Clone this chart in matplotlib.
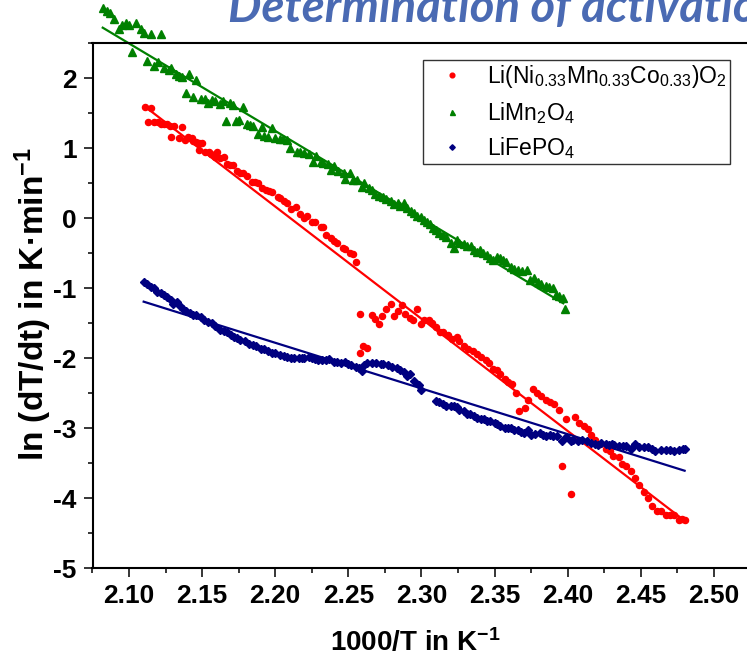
import matplotlib
matplotlib.use("Agg")
import matplotlib.pyplot as plt
from matplotlib.lines import Line2D
from matplotlib.ticker import FixedLocator, MultipleLocator

plt.rcParams['font.family'] = ['Liberation Sans', 'DejaVu Sans']
plt.rcParams['mathtext.fontset'] = 'custom'
plt.rcParams['mathtext.rm'] = 'Liberation Sans'
plt.rcParams['mathtext.it'] = 'Liberation Sans:italic'
plt.rcParams['mathtext.bf'] = 'Liberation Sans:bold'

# ---- data: 1000/T (K^-1) vs ln(dT/dt) ----
nmc_x = [2.111, 2.115, 2.113, 2.117, 2.120, 2.122, 2.124, 2.126, 2.128, 2.129, 2.131, 2.134,
         2.136, 2.138, 2.140, 2.143, 2.144, 2.146, 2.148, 2.148, 2.150, 2.152, 2.155, 2.156,
         2.159, 2.160, 2.162, 2.165, 2.167, 2.169, 2.171, 2.174, 2.176, 2.178, 2.181, 2.184,
         2.186, 2.188, 2.191, 2.194, 2.196, 2.198, 2.202, 2.203, 2.206, 2.208, 2.211, 2.214,
         2.217, 2.220, 2.222, 2.225, 2.227, 2.231, 2.233, 2.235, 2.238, 2.240, 2.242, 2.246,
         2.248, 2.251, 2.253, 2.255,
         2.258, 2.258, 2.260, 2.263, 2.266, 2.268, 2.271, 2.273, 2.276, 2.279, 2.281, 2.284,
         2.287, 2.289, 2.292, 2.294, 2.297, 2.300, 2.302, 2.305, 2.307, 2.310, 2.313, 2.315,
         2.318, 2.321, 2.324, 2.326, 2.329, 2.332, 2.335, 2.338, 2.341, 2.344, 2.346, 2.349,
         2.352, 2.354, 2.357, 2.359, 2.362, 2.365, 2.367, 2.371, 2.373, 2.376, 2.379, 2.382,
         2.385, 2.388, 2.391, 2.394, 2.396, 2.399, 2.402, 2.405, 2.408, 2.411, 2.414, 2.416,
         2.419, 2.422, 2.426, 2.429, 2.431, 2.435, 2.437, 2.440, 2.443, 2.446, 2.449, 2.452,
         2.455, 2.458, 2.461, 2.464, 2.467, 2.470, 2.473, 2.476, 2.478, 2.480]
nmc_y = [1.59, 1.58, 1.37, 1.37, 1.37, 1.35, 1.34, 1.34, 1.32, 1.16, 1.32, 1.14,
         1.30, 1.12, 1.16, 1.14, 1.10, 1.09, 0.97, 1.07, 1.08, 0.95, 0.94, 0.92,
         0.88, 0.94, 0.86, 0.88, 0.78, 0.76, 0.76, 0.67, 0.65, 0.64, 0.61, 0.52,
         0.52, 0.50, 0.43, 0.41, 0.39, 0.38, 0.31, 0.29, 0.24, 0.22, 0.13, 0.16,
         0.06, 0.01, 0.03, -0.06, -0.06, -0.12, -0.13, -0.24, -0.28, -0.33, -0.35, -0.43,
         -0.44, -0.50, -0.51, -0.62,
         -1.37, -1.93, -1.82, -1.85, -1.38, -1.44, -1.51, -1.40, -1.30, -1.23, -1.40, -1.33,
         -1.24, -1.37, -1.43, -1.45, -1.29, -1.51, -1.45, -1.45, -1.50, -1.55, -1.62, -1.62,
         -1.67, -1.73, -1.70, -1.75, -1.82, -1.87, -1.89, -1.94, -1.98, -2.02, -2.07, -2.15,
         -2.17, -2.22, -2.29, -2.34, -2.37, -2.50, -2.75, -2.71, -2.60, -2.44, -2.49, -2.54,
         -2.60, -2.62, -2.65, -2.74, -3.54, -2.87, -3.94, -2.84, -2.93, -2.97, -3.01, -3.10,
         -3.16, -3.22, -3.29, -3.33, -3.40, -3.41, -3.51, -3.54, -3.61, -3.71, -3.81, -3.91,
         -4.00, -4.11, -4.18, -4.18, -4.24, -4.24, -4.24, -4.31, -4.29, -4.31]

lmo_x = [2.082, 2.085, 2.087, 2.090, 2.093, 2.095, 2.098, 2.100, 2.102, 2.105, 2.108, 2.110,
         2.115, 2.122, 2.112, 2.117, 2.120, 2.124, 2.127, 2.129, 2.132, 2.134, 2.136, 2.139,
         2.141, 2.144, 2.146, 2.149, 2.152, 2.154, 2.157, 2.159, 2.162, 2.164, 2.166, 2.169,
         2.171, 2.173, 2.175, 2.178, 2.181, 2.183, 2.185, 2.188, 2.191, 2.192, 2.195, 2.198,
         2.200, 2.203, 2.205, 2.208, 2.210, 2.215, 2.217, 2.220, 2.223, 2.226, 2.228, 2.231,
         2.233, 2.236, 2.238, 2.240, 2.243, 2.247, 2.248, 2.251, 2.253, 2.256, 2.259, 2.261,
         2.264, 2.266, 2.268, 2.271, 2.274, 2.276, 2.279, 2.281, 2.284, 2.285, 2.288, 2.290,
         2.293, 2.295, 2.297, 2.300, 2.302, 2.304, 2.306, 2.308, 2.310, 2.312, 2.315, 2.317,
         2.320, 2.322, 2.324, 2.326, 2.329, 2.331, 2.334, 2.336, 2.338, 2.340, 2.342, 2.345,
         2.347, 2.349, 2.352, 2.354, 2.356, 2.358, 2.361, 2.363, 2.366, 2.369, 2.372, 2.374,
         2.377, 2.380, 2.382, 2.385, 2.387, 2.390, 2.392, 2.394, 2.397, 2.398]
lmo_y = [3.01, 2.96, 2.93, 2.84, 2.70, 2.76, 2.79, 2.76, 2.38, 2.79, 2.70, 2.65,
         2.63, 2.63, 2.24, 2.17, 2.23, 2.14, 2.12, 2.14, 2.06, 2.03, 2.02, 1.79,
         2.06, 1.73, 1.97, 1.70, 1.70, 1.65, 1.69, 1.68, 1.63, 1.68, 1.39, 1.64,
         1.62, 1.39, 1.40, 1.59, 1.35, 1.33, 1.32, 1.20, 1.31, 1.17, 1.16, 1.29,
         1.14, 1.13, 1.13, 1.12, 1.00, 0.95, 0.94, 0.93, 0.92, 0.81, 0.89, 0.81,
         0.79, 0.77, 0.69, 0.74, 0.67, 0.64, 0.56, 0.64, 0.55, 0.54, 0.45, 0.50,
         0.43, 0.40, 0.35, 0.32, 0.31, 0.27, 0.24, 0.21, 0.22, 0.18, 0.22, 0.14,
         0.11, 0.07, 0.03, 0.02, -0.02, -0.06, -0.08, -0.14, -0.17, -0.21, -0.24, -0.27,
         -0.36, -0.43, -0.31, -0.36, -0.37, -0.40, -0.40, -0.45, -0.48, -0.46, -0.50, -0.52,
         -0.57, -0.59, -0.56, -0.57, -0.59, -0.62, -0.70, -0.73, -0.74, -0.75, -0.74, -0.88,
         -0.86, -0.91, -0.94, -0.97, -0.98, -1.00, -1.10, -1.11, -1.14, -1.29]

lfp_x = [2.110, 2.112, 2.115, 2.117, 2.119, 2.122, 2.124, 2.126, 2.129, 2.130, 2.133, 2.135,
         2.137, 2.139, 2.142, 2.144, 2.146, 2.149, 2.151, 2.154, 2.157, 2.159, 2.162, 2.165,
         2.167, 2.170, 2.172, 2.174, 2.176, 2.179, 2.182, 2.185, 2.187, 2.190, 2.192, 2.195,
         2.198, 2.200, 2.203, 2.206, 2.208, 2.211, 2.213, 2.216, 2.218, 2.220, 2.223, 2.225,
         2.227, 2.229, 2.232, 2.235, 2.237, 2.240, 2.242, 2.245, 2.248, 2.250, 2.252, 2.255,
         2.257, 2.259, 2.261, 2.263, 2.266, 2.269, 2.272, 2.274, 2.277, 2.280, 2.283, 2.285,
         2.288, 2.290, 2.292, 2.295, 2.298, 2.300,
         2.310, 2.312, 2.315, 2.317, 2.320, 2.322, 2.324, 2.326, 2.329, 2.331, 2.333, 2.336,
         2.338, 2.341, 2.343, 2.345, 2.347, 2.350, 2.352, 2.354, 2.357, 2.359, 2.361, 2.363,
         2.366, 2.368, 2.370, 2.373, 2.375, 2.378, 2.381, 2.383, 2.385, 2.388, 2.390, 2.393,
         2.396, 2.399, 2.402, 2.404, 2.407, 2.410, 2.413, 2.416, 2.419, 2.421, 2.423, 2.426,
         2.428, 2.430, 2.432, 2.435, 2.438, 2.440, 2.443, 2.446, 2.449, 2.452, 2.455, 2.458,
         2.460, 2.464, 2.467, 2.470, 2.473, 2.476, 2.479, 2.480]
lfp_y = [-0.91, -0.94, -0.98, -0.99, -1.06, -1.07, -1.10, -1.13, -1.17, -1.22, -1.19, -1.26,
         -1.30, -1.32, -1.36, -1.38, -1.38, -1.41, -1.45, -1.48, -1.50, -1.54, -1.59, -1.61,
         -1.63, -1.67, -1.69, -1.71, -1.74, -1.76, -1.79, -1.81, -1.83, -1.86, -1.87, -1.89,
         -1.92, -1.93, -1.95, -1.97, -1.98, -1.99, -2.00, -1.99, -2.00, -1.99, -1.98, -2.00,
         -2.01, -2.02, -2.02, -2.03, -2.01, -2.05, -2.05, -2.06, -2.05, -2.08, -2.10, -2.12,
         -2.14, -2.18, -2.10, -2.07, -2.06, -2.07, -2.08, -2.08, -2.10, -2.12, -2.14, -2.17,
         -2.19, -2.25, -2.22, -2.32, -2.38, -2.46,
         -2.61, -2.63, -2.65, -2.68, -2.68, -2.68, -2.70, -2.74, -2.76, -2.79, -2.80, -2.82,
         -2.86, -2.87, -2.87, -2.89, -2.89, -2.92, -2.94, -2.97, -2.99, -2.99, -3.00, -3.02,
         -3.03, -3.05, -3.07, -3.02, -3.10, -3.08, -3.06, -3.10, -3.11, -3.10, -3.11, -3.11,
         -3.18, -3.13, -3.18, -3.17, -3.18, -3.16, -3.18, -3.21, -3.22, -3.24, -3.21, -3.22,
         -3.24, -3.22, -3.24, -3.26, -3.25, -3.26, -3.29, -3.22, -3.27, -3.27, -3.27, -3.30,
         -3.33, -3.31, -3.31, -3.31, -3.33, -3.31, -3.30, -3.30]

# linear Arrhenius-type fits, drawn between their end points
nmc_fit_x = [2.111, 2.480]
nmc_fit_y = [1.594, -4.32]
lmo_fit_x = [2.082, 2.397]
lmo_fit_y = [2.723, -1.214]
lfp_fit_x = [2.110, 2.480]
lfp_fit_y = [-1.191, -3.606]

series_labels = [r'Li(Ni$\mathregular{_{0.33}}$Mn$\mathregular{_{0.33}}$Co$\mathregular{_{0.33}}$)O$\mathregular{_2}$',
                 r'LiMn$\mathregular{_2}$O$\mathregular{_4}$',
                 r'LiFePO$\mathregular{_4}$']
x_ticks = [2.10, 2.15, 2.20, 2.25, 2.30, 2.35, 2.40, 2.45, 2.50]
y_ticks = [-5, -4, -3, -2, -1, 0, 1, 2]

RED, GREEN, NAVY = '#ff0000', '#008000', '#000080'

W, H, DPI = 747, 669, 100
fig = plt.figure(figsize=(W / DPI, H / DPI), dpi=DPI)

x0, x1 = 2.075, 2.55
px_per_unit = 1462.0
ax_left, ax_top, ax_bottom = 92.5, 43.3, 568.3
ax_w = (x1 - x0) * px_per_unit
ax_h = ax_bottom - ax_top
ax = fig.add_axes([ax_left / W, (H - ax_bottom) / H, ax_w / W, ax_h / H])
ax.set_xlim(x0, x1)
ax.set_ylim(-5, 2.5)

ax.plot(nmc_fit_x, nmc_fit_y, color=RED, lw=1.6, clip_on=False, zorder=2)
ax.plot(lmo_fit_x, lmo_fit_y, color=GREEN, lw=1.6, clip_on=False, zorder=2)
ax.plot(lfp_fit_x, lfp_fit_y, color=NAVY, lw=1.6, clip_on=False, zorder=2)

ax.plot(nmc_x, nmc_y, ls='none', marker='o', ms=4.4, color=RED, mec=RED, clip_on=False, zorder=3)
ax.plot(lmo_x, lmo_y, ls='none', marker='^', ms=5.2, color=GREEN, mec=GREEN, clip_on=False, zorder=3)
ax.plot(lfp_x, lfp_y, ls='none', marker='D', ms=3.8, color=NAVY, mec=NAVY, clip_on=False, zorder=3)

for s in ax.spines.values():
    s.set_linewidth(1.5)
ax.xaxis.set_major_locator(FixedLocator(x_ticks))
ax.xaxis.set_minor_locator(FixedLocator([2.075 + 0.05 * i for i in range(10)]))
ax.yaxis.set_major_locator(FixedLocator(y_ticks))
ax.yaxis.set_minor_locator(MultipleLocator(0.5))
ax.set_xticklabels([f'{v:.2f}' for v in x_ticks])
ax.set_yticklabels([str(v) for v in y_ticks])
ax.tick_params(which='major', direction='out', length=6.5, width=1.1, pad=5,
               labelsize=19)
ax.tick_params(which='minor', direction='out', length=3.6, width=1.1)
for lab in ax.get_xticklabels() + ax.get_yticklabels():
    lab.set_fontweight('bold')

ax.set_xlabel(r'1000/T in K$\mathbf{^{-1}}$', fontsize=20, fontweight='bold')
ax.xaxis.label.set_verticalalignment('center')
ax.xaxis.set_label_coords((415 - ax_left) / ax_w, -(643 - ax_bottom) / ax_h)
ax.set_ylabel('ln (dT/dt) in K\u00b7min' + r'$\mathbf{^{-1}}$', fontsize=24, fontweight='bold')
ax.yaxis.label.set_verticalalignment('center')
ax.yaxis.set_label_coords(-(ax_left - 33) / ax_w, (ax_bottom - 304) / ax_h)

handles = [Line2D([], [], ls='none', marker='o', ms=3.4, color=RED),
           Line2D([], [], ls='none', marker='^', ms=3.6, color=GREEN),
           Line2D([], [], ls='none', marker='D', ms=2.8, color=NAVY)]
leg = fig.legend(handles, series_labels, loc='upper left',
                 bbox_to_anchor=(423 / W, (H - 60) / H), bbox_transform=fig.transFigure,
                 borderaxespad=0, frameon=True, fancybox=False, framealpha=1,
                 edgecolor='#333333', fontsize=16.5, handlelength=2.25,
                 handletextpad=0.4, labelspacing=0.4, borderpad=0.15)
leg.get_frame().set_linewidth(1.0)

fig.text(228 / W, 1 - 21 / H, 'Determination of activation energy',
         fontsize=34, fontweight='bold', style='italic', color='#4a6ab3',
         family=['Lato', 'DejaVu Sans'], ha='left', va='baseline')

fig.savefig('out.png', dpi=DPI)
